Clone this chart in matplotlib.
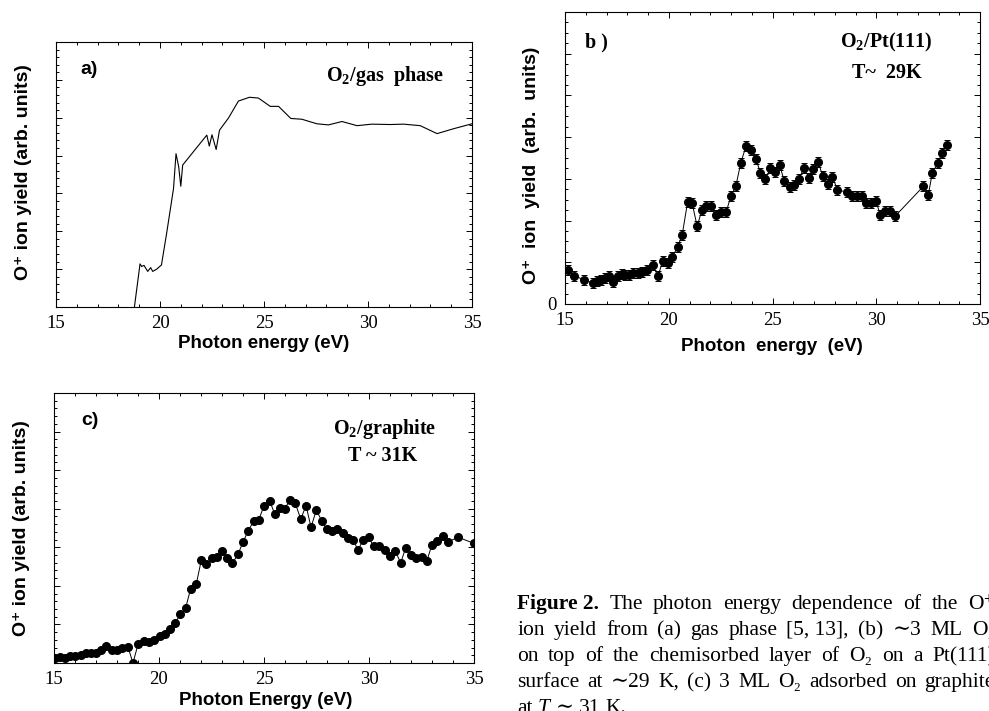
import matplotlib
matplotlib.use('Agg')
import matplotlib.pyplot as plt
from matplotlib.ticker import MultipleLocator

# panel a: O2 gas phase (line only)
a_x = [18.77, 19.04, 19.12, 19.23, 19.41, 19.55, 19.65, 19.84, 20.07, 20.32,
       20.65, 20.77, 20.90, 21.00, 21.09, 22.25, 22.37, 22.50, 22.70, 22.86,
       23.29, 23.77, 24.30, 24.73, 25.30, 25.70, 26.29, 26.82, 27.54, 28.10,
       28.75, 29.47, 30.19, 31.07, 31.71, 32.51, 33.32, 34.12, 35.00]
a_y = [0.00, 1.14, 1.07, 1.10, 0.94, 1.04, 0.94, 1.00, 1.11, 1.95,
       3.13, 4.05, 3.70, 3.19, 3.75, 4.54, 4.25, 4.55, 4.16, 4.67,
       4.99, 5.44, 5.54, 5.52, 5.30, 5.30, 4.98, 4.96, 4.84, 4.81,
       4.90, 4.79, 4.83, 4.82, 4.83, 4.79, 4.58, 4.71, 4.84]

# panel b: O2/Pt(111), T~29K
b_x = [15.14, 15.43, 15.91, 16.35, 16.54, 16.75, 16.94, 17.10, 17.33, 17.54,
       17.74, 17.90, 18.07, 18.30, 18.50, 18.71, 18.95, 19.24, 19.48, 19.70,
       19.96, 20.18, 20.43, 20.65, 20.91, 21.13, 21.37, 21.60, 21.81, 22.03,
       22.29, 22.51, 22.77, 22.99, 23.23, 23.47, 23.72, 23.97, 24.20, 24.42,
       24.66, 24.90, 25.10, 25.34, 25.56, 25.82, 26.03, 26.28, 26.51, 26.77,
       26.97, 27.21, 27.42, 27.66, 27.89, 28.13, 28.58, 28.82, 29.06, 29.30,
       29.51, 29.75, 29.98, 30.20, 30.42, 30.65, 30.90, 32.27, 32.51, 32.70,
       32.96, 33.17, 33.39]
b_y = [0.82, 0.68, 0.58, 0.50, 0.54, 0.58, 0.62, 0.66, 0.52, 0.68,
       0.72, 0.70, 0.69, 0.74, 0.74, 0.77, 0.82, 0.93, 0.66, 1.02,
       0.98, 1.13, 1.37, 1.66, 2.45, 2.41, 1.86, 2.26, 2.34, 2.34,
       2.13, 2.21, 2.21, 2.58, 2.82, 3.38, 3.78, 3.70, 3.48, 3.14,
       3.00, 3.25, 3.17, 3.34, 2.96, 2.80, 2.85, 3.00, 3.26, 3.02,
       3.24, 3.40, 3.06, 2.88, 3.04, 2.74, 2.68, 2.58, 2.60, 2.58,
       2.41, 2.41, 2.46, 2.14, 2.22, 2.24, 2.10, 2.82, 2.62, 3.14,
       3.37, 3.62, 3.82]
b_err = 0.12

# panel c: O2/graphite, T~31K
c_x = [15.03, 15.27, 15.51, 15.75, 15.98, 16.27, 16.51, 16.75, 16.98, 17.22,
       17.49, 17.76, 18.00, 18.25, 18.52, 18.76, 19.00, 19.27, 19.52, 19.76,
       20.03, 20.27, 20.54, 20.78, 21.02, 21.27, 21.51, 21.78, 22.02, 22.25,
       22.51, 22.76, 23.02, 23.25, 23.49, 23.76, 24.00, 24.24, 24.51, 24.75,
       25.00, 25.27, 25.51, 25.75, 25.98, 26.25, 26.49, 26.75, 27.00, 27.24,
       27.49, 27.75, 27.98, 28.24, 28.49, 28.75, 29.00, 29.24, 29.48, 29.73,
       29.98, 30.22, 30.48, 30.75, 31.00, 31.24, 31.51, 31.75, 32.00, 32.25,
       32.51, 32.75, 33.00, 33.25, 33.51, 33.76, 34.25, 35.00]
c_y = [0.14, 0.16, 0.14, 0.17, 0.17, 0.21, 0.26, 0.27, 0.27, 0.35,
       0.45, 0.33, 0.33, 0.39, 0.42, 0.00, 0.48, 0.56, 0.54, 0.59,
       0.70, 0.76, 0.88, 1.05, 1.26, 1.43, 1.93, 2.06, 2.68, 2.57,
       2.71, 2.75, 2.90, 2.71, 2.58, 2.82, 3.13, 3.42, 3.68, 3.71,
       4.08, 4.21, 3.86, 4.01, 4.00, 4.23, 4.14, 3.73, 4.08, 3.52,
       3.96, 3.69, 3.47, 3.42, 3.48, 3.36, 3.23, 3.19, 2.93, 3.20,
       3.26, 3.03, 3.03, 2.94, 2.77, 2.91, 2.60, 2.99, 2.80, 2.71,
       2.75, 2.64, 3.07, 3.17, 3.29, 3.14, 3.26, 3.10]

SERIF = ['Liberation Serif', 'DejaVu Serif']
SANS = ['Liberation Sans', 'DejaVu Sans']

# subscripts in the panel notes in Times-like bold
plt.rcParams['mathtext.fontset'] = 'custom'
plt.rcParams['mathtext.rm'] = 'Liberation Serif'
plt.rcParams['mathtext.bf'] = 'Liberation Serif:bold'

W, H = 989, 711
fig = plt.figure(figsize=(W / 100, H / 100), dpi=100)


def px(x0, top, x1, bottom):
    return [x0 / W, 1 - bottom / H, (x1 - x0) / W, (bottom - top) / H]


def style(ax, yminor):
    ax.set_xlim(15, 35)
    ax.set_ylim(0, 7)
    ax.xaxis.set_major_locator(MultipleLocator(5))
    ax.xaxis.set_minor_locator(MultipleLocator(1))
    ax.yaxis.set_major_locator(MultipleLocator(1))
    ax.yaxis.set_minor_locator(MultipleLocator(yminor))
    ax.tick_params(which='both', direction='in', top=True, right=True,
                   width=0.7, labelsize=13.5, pad=6)
    ax.tick_params(which='major', length=4)
    ax.tick_params(which='minor', length=2.3)
    ax.set_yticklabels([])
    for lab in ax.get_xticklabels():
        lab.set_family(SERIF)
    for s in ax.spines.values():
        s.set_linewidth(0.8)


# a)
ax1 = fig.add_axes(px(56, 42, 472, 307))
ax1.plot(a_x, a_y, color='black', lw=0.8)
style(ax1, 0.2)
ax1.text(0.058, 0.93, 'a)', transform=ax1.transAxes, family=SANS,
         weight='bold', fontsize=14, ha='left', va='top')
ax1.text(0.79, 0.87, 'O$_\\mathbf{2}$/gas  phase', transform=ax1.transAxes,
         family=SERIF, weight='bold', fontsize=14.5, ha='center', va='center')
fig.text(264 / W, 1 - 335 / H, 'Photon energy (eV)', family=SANS,
         weight='bold', fontsize=13.5, ha='center', va='top')
fig.text(24 / W, 1 - 172 / H, 'O\u207a ion yield (arb. units)', family=SANS,
         weight='bold', fontsize=14, rotation=90, ha='center', va='center')

# b)
ax2 = fig.add_axes(px(565, 12, 980, 304))
ax2.errorbar(b_x, b_y, yerr=b_err, fmt='-o', color='black', lw=0.7,
             ms=5.5, elinewidth=0.7, capsize=2.5, capthick=0.7)
style(ax2, 0.25)
ax2.set_yticks([0, 1, 2, 3, 4, 5, 6, 7])
ax2.set_yticklabels(['0', '', '', '', '', '', '', ''])
for lab in ax2.get_yticklabels():
    lab.set_family(SERIF)
ax2.text(0.048, 0.93, 'b )', transform=ax2.transAxes, family=SERIF,
         weight='bold', fontsize=14.5, ha='left', va='top')
ax2.text(0.774, 0.894, 'O$_\\mathbf{2}$/Pt(111)', transform=ax2.transAxes,
         family=SERIF, weight='bold', fontsize=14.5, ha='center', va='center')
ax2.text(0.776, 0.79, 'T~  29K', transform=ax2.transAxes,
         family=SERIF, weight='bold', fontsize=14.5, ha='center', va='center')
fig.text(772 / W, 1 - 338 / H, 'Photon  energy  (eV)', family=SANS,
         weight='bold', fontsize=13.5, ha='center', va='top')
fig.text(531 / W, 1 - 165 / H, 'O\u207a  ion  yield  (arb.  units)',
         family=SANS, weight='bold', fontsize=14, rotation=90,
         ha='center', va='center')

# c)
ax3 = fig.add_axes(px(54, 393, 474, 663))
ax3.plot(c_x, c_y, '-o', color='black', lw=0.7, ms=5.5)
style(ax3, 0.2)
ax3.text(0.065, 0.93, 'c)', transform=ax3.transAxes, family=SANS,
         weight='bold', fontsize=14, ha='left', va='top')
ax3.text(0.788, 0.867, 'O$_\\mathbf{2}$/graphite', transform=ax3.transAxes,
         family=SERIF, weight='bold', fontsize=14.5, ha='center', va='center')
ax3.text(0.783, 0.767, 'T ~ 31K', transform=ax3.transAxes,
         family=SERIF, weight='bold', fontsize=14.5, ha='center', va='center')
fig.text(266 / W, 1 - 692 / H, 'Photon Energy (eV)', family=SANS,
         weight='bold', fontsize=13.5, ha='center', va='top')
fig.text(22 / W, 1 - 528 / H, 'O\u207a ion yield (arb. units)', family=SANS,
         weight='bold', fontsize=14, rotation=90, ha='center', va='center')

# caption, justified between x=517 and x=995 (runs past the right edge)
cap_lines = [
    [('Figure 2.', 'normal', 'bold'), ('The',), ('photon',), ('energy',),
     ('dependence',), ('of',), ('the',), ('O\u207a',)],
    [('ion',), ('yield',), ('from',), ('(a)',), ('gas',), ('phase',),
     ('[5, 13],',), ('(b)',), ('\u223c3',), ('ML',), ('O\u2082',)],
    [('on',), ('top',), ('of',), ('the',), ('chemisorbed',), ('layer',),
     ('of',), ('O\u2082',), ('on',), ('a',), ('Pt(111)',)],
    [('surface',), ('at',), ('\u223c29',), ('K,',), ('(c)',), ('3',),
     ('ML',), ('O\u2082',), ('adsorbed',), ('on',), ('graphite',)],
    [('at',), ('T', 'italic'), ('\u223c',), ('31',), ('K.',)],
]
cap_base = [609, 635, 661, 687, 713]
cap_left, cap_right = 517, 995
cap_size = 15.5

r = fig.canvas.get_renderer()
for i, words in enumerate(cap_lines):
    y = 1 - cap_base[i] / H
    texts = []
    for w in words:
        st = w[1] if len(w) > 1 else 'normal'
        wt = w[2] if len(w) > 2 else 'normal'
        t = fig.text(0, y, w[0], family=SERIF, fontsize=cap_size, style=st,
                     weight=wt, ha='left', va='baseline')
        texts.append(t)
    widths = [t.get_window_extent(renderer=r).width for t in texts]
    if i == len(cap_lines) - 1:
        gap = 0.25 * cap_size * 100 / 72
    else:
        gap = (cap_right - cap_left - sum(widths)) / (len(texts) - 1)
    xpos = cap_left
    for t, w in zip(texts, widths):
        t.set_x(xpos / W)
        xpos += w + gap

fig.savefig('out.png', dpi=100)
